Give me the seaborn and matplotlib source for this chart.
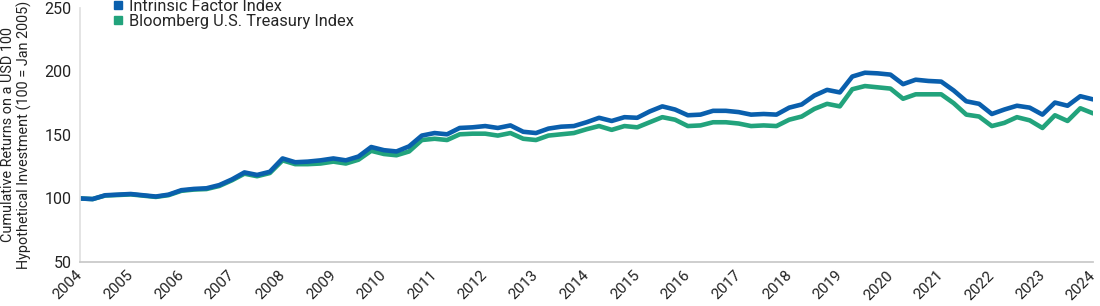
import matplotlib
matplotlib.use("Agg")
import matplotlib.pyplot as plt
import matplotlib.dates as mdates
import matplotlib.transforms as mtransforms
from matplotlib.lines import Line2D
import seaborn as sns
import pandas as pd

# Quarterly values (100 = Jan 2005)
dates = pd.date_range("2004-01-01", "2024-01-01", freq="QS")

intrinsic = [
    100, 99.5, 102.5, 103, 103.5, 102.5, 101.5, 103,
    106.5, 107.5, 108, 110.5, 115, 120.5, 118.5, 121,
    131.5, 128.5, 129, 130, 131.5, 130, 133, 140.5,
    138, 137, 141, 149.5, 151.5, 150.5, 155.5, 156,
    157, 155.5, 157.5, 152.5, 151.5, 155, 156.5, 157,
    160, 163.5, 161, 164, 163.5, 168.5, 172.5, 170,
    165.5, 166, 169, 169, 168, 166, 166.5, 166,
    171.5, 174, 181, 185.5, 183.5, 196, 199, 198.5,
    197.5, 190, 193.5, 192.5, 192, 185, 176.5, 174.5,
    166.5, 170, 173, 171.5, 166, 175.5, 173, 180.5,
    178,
]
treasury = [
    100, 99.5, 102.3, 102.7, 103.2, 102.2, 101.2, 102.6,
    106, 107, 107.4, 109.8, 114.3, 119.5, 117.5, 120,
    130, 127, 127, 127.5, 129, 127.5, 130.5, 137.5,
    135, 134, 137, 146, 147, 146, 150.5, 151,
    151, 149.5, 151.5, 147, 146, 149.5, 150.5, 151.5,
    154.5, 157, 154, 157, 156, 160, 164, 162,
    157, 157.5, 160, 160, 159, 157, 157.5, 157,
    162, 164.5, 170.5, 174.5, 172.5, 186, 188.5, 187.5,
    186.5, 178.5, 182, 182, 182, 175, 166, 164.5,
    157, 159.5, 164, 161.5, 155.5, 165.5, 161, 171,
    167,
]
series_names = ["Intrinsic Factor Index", "Bloomberg U.S. Treasury Index"]
colors = {"Intrinsic Factor Index": "#0a5fad", "Bloomberg U.S. Treasury Index": "#22a37c"}

df = pd.concat([
    pd.DataFrame({"date": dates, "value": treasury, "series": series_names[1]}),
    pd.DataFrame({"date": dates, "value": intrinsic, "series": series_names[0]}),
])

sns.set_theme(style="white")
plt.rcParams["font.family"] = ["Roboto", "DejaVu Sans"]

fig = plt.figure(figsize=(11, 3.06), dpi=100)
ax = fig.add_axes([0.0727, 0.144, 0.921, 0.83])

sns.lineplot(data=df, x="date", y="value", hue="series", palette=colors,
             hue_order=[series_names[1], series_names[0]],
             linewidth=3.3, ax=ax, legend=False)

ax.set_xlim(pd.Timestamp("2004-01-01"), pd.Timestamp("2024-01-01"))
ax.set_ylim(50, 250)
ax.set_yticks([50, 100, 150, 200, 250])
ax.xaxis.set_major_locator(mdates.YearLocator(1))
ax.xaxis.set_major_formatter(mdates.DateFormatter("%Y"))

ax.tick_params(axis="y", direction="in", length=19, width=1, color="#d6d6d6",
               labelsize=11.5, labelcolor="#222222", pad=6)
ax.tick_params(axis="x", length=0, labelsize=11, labelcolor="#222222", pad=0)
# anchor each rotated year label at its baseline-right corner, just below the tick
offset = mtransforms.ScaledTranslation(3 / 100, -14 / 100, fig.dpi_scale_trans)
for lab in ax.get_xticklabels():
    lab.set_rotation(45)
    lab.set_ha("right")
    lab.set_va("baseline")
    lab.set_rotation_mode("anchor")
    lab.set_transform(lab.get_transform() + offset)

for side in ["top", "right"]:
    ax.spines[side].set_visible(False)
ax.spines["left"].set_color("#e0e0e0")
ax.spines["bottom"].set_color("#c8c8c8")

ax.set_xlabel("")
ax.set_ylabel("Cumulative Returns on a USD 100\nHypothetical Investment (100 = Jan 2005)",
              fontsize=10.4, color="#222222", linespacing=1.15, labelpad=9)

handles = [Line2D([], [], marker="s", linestyle="", markersize=6,
                  color=colors[n]) for n in series_names]
ax.legend(handles, series_names, loc="upper left", bbox_to_anchor=(0.031, 1.035),
          frameon=False, fontsize=11.8, handletextpad=0.25, labelspacing=0.0,
          borderaxespad=0, borderpad=0, handlelength=0.8)

fig.savefig("out.png", dpi=100)
